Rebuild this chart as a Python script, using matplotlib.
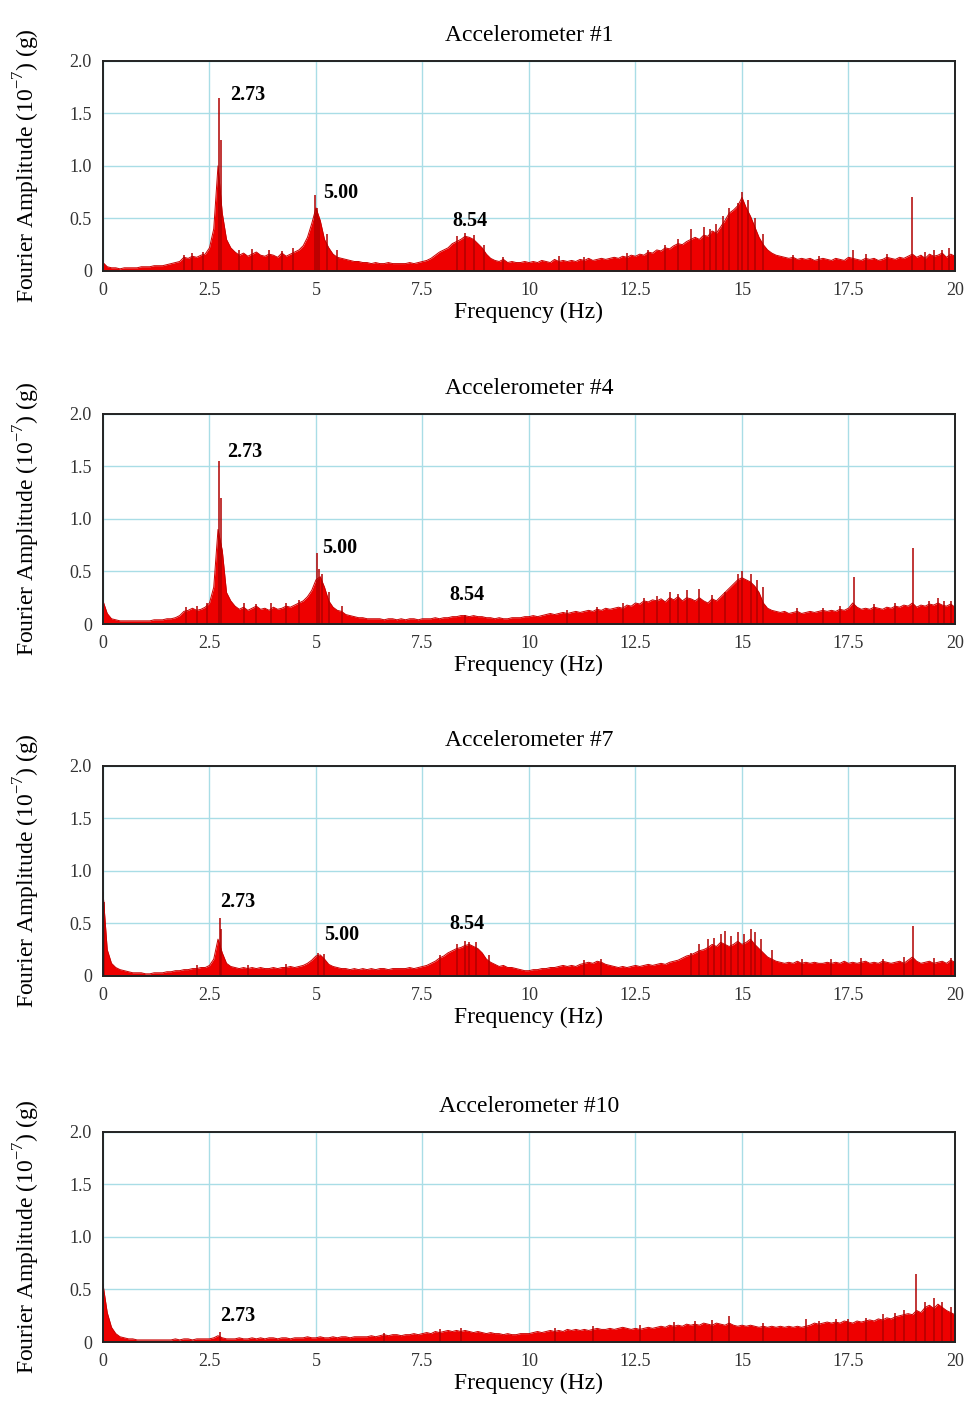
import matplotlib
matplotlib.use("Agg")
import matplotlib.pyplot as plt
import numpy as np

plt.rcParams['font.family'] = ['Liberation Serif', 'DejaVu Serif']
plt.rcParams['mathtext.fontset'] = 'custom'
plt.rcParams['mathtext.rm'] = 'Liberation Serif'

# frequency sampling of the digitised envelopes (Hz)
freq = np.round(np.arange(201) * 0.1, 1)

titles = ['Accelerometer #1', 'Accelerometer #4', 'Accelerometer #7', 'Accelerometer #10']

# Accelerometer #1 - spectrum envelope (10^-7 g)
amp1 = [0.08, 0.04, 0.03, 0.03, 0.02, 0.03, 0.03, 0.03, 0.03, 0.04,
        0.04, 0.04, 0.05, 0.05, 0.05, 0.06, 0.07, 0.08, 0.09, 0.13,
        0.12, 0.14, 0.13, 0.15, 0.16, 0.22, 0.40, 1.00, 0.55, 0.30,
        0.22, 0.18, 0.15, 0.17, 0.14, 0.16, 0.18, 0.15, 0.14, 0.16,
        0.15, 0.13, 0.17, 0.14, 0.16, 0.18, 0.20, 0.24, 0.32, 0.45,
        0.60, 0.48, 0.30, 0.22, 0.16, 0.13, 0.12, 0.11, 0.10, 0.09,
        0.09, 0.08, 0.08, 0.07, 0.08, 0.07, 0.07, 0.08, 0.07, 0.07,
        0.07, 0.07, 0.08, 0.07, 0.08, 0.09, 0.10, 0.12, 0.15, 0.18,
        0.20, 0.22, 0.26, 0.28, 0.30, 0.33, 0.32, 0.30, 0.26, 0.22,
        0.16, 0.12, 0.10, 0.09, 0.11, 0.08, 0.09, 0.08, 0.08, 0.09,
        0.08, 0.09, 0.08, 0.10, 0.09, 0.08, 0.11, 0.09, 0.10, 0.09,
        0.10, 0.09, 0.11, 0.10, 0.12, 0.10, 0.11, 0.12, 0.11, 0.12,
        0.13, 0.12, 0.14, 0.13, 0.15, 0.14, 0.16, 0.15, 0.18, 0.17,
        0.20, 0.19, 0.22, 0.21, 0.24, 0.26, 0.25, 0.28, 0.30, 0.32,
        0.30, 0.34, 0.33, 0.38, 0.36, 0.42, 0.48, 0.55, 0.58, 0.62,
        0.70, 0.60, 0.52, 0.42, 0.32, 0.25, 0.20, 0.17, 0.15, 0.14,
        0.13, 0.12, 0.13, 0.11, 0.12, 0.11, 0.12, 0.10, 0.11, 0.12,
        0.11, 0.10, 0.12, 0.11, 0.10, 0.13, 0.12, 0.11, 0.10, 0.12,
        0.11, 0.12, 0.10, 0.11, 0.13, 0.12, 0.11, 0.13, 0.12, 0.14,
        0.16, 0.13, 0.15, 0.12, 0.16, 0.14, 0.15, 0.17, 0.13, 0.16, 0.14]
spike_f1 = [2.73, 2.76, 4.98, 5.03, 5.08, 8.5, 13.8, 14.1, 14.4, 14.7, 14.9, 15.0, 17.6, 19.0, 19.5, 19.85,
            1.9, 2.1, 2.35, 3.2, 3.5, 3.9, 4.2, 4.45, 5.25, 5.5, 8.3, 8.7, 8.95, 9.4, 10.7, 11.3,
            12.3, 12.8, 13.2, 13.5, 14.25, 14.55, 15.15, 15.3, 15.5, 16.2, 16.8, 17.9, 18.4, 19.3, 19.7]
spike_a1 = [1.65, 1.25, 0.72, 0.60, 0.50, 0.36, 0.40, 0.42, 0.45, 0.60, 0.65, 0.75, 0.20, 0.70, 0.20, 0.22,
            0.15, 0.17, 0.18, 0.20, 0.21, 0.20, 0.19, 0.22, 0.35, 0.20, 0.33, 0.34, 0.25, 0.13, 0.14, 0.13,
            0.17, 0.20, 0.25, 0.30, 0.40, 0.52, 0.68, 0.50, 0.35, 0.15, 0.14, 0.16, 0.16, 0.18, 0.20]

# Accelerometer #4
amp2 = [0.22, 0.10, 0.05, 0.04, 0.03, 0.03, 0.03, 0.03, 0.03, 0.03,
        0.03, 0.03, 0.04, 0.04, 0.04, 0.05, 0.05, 0.06, 0.08, 0.12,
        0.13, 0.15, 0.13, 0.14, 0.16, 0.20, 0.35, 0.90, 0.70, 0.30,
        0.22, 0.17, 0.14, 0.16, 0.13, 0.15, 0.17, 0.14, 0.15, 0.13,
        0.16, 0.14, 0.15, 0.17, 0.16, 0.18, 0.20, 0.22, 0.26, 0.32,
        0.42, 0.45, 0.35, 0.22, 0.16, 0.13, 0.12, 0.09, 0.08, 0.07,
        0.06, 0.06, 0.05, 0.05, 0.05, 0.05, 0.04, 0.05, 0.05, 0.04,
        0.05, 0.04, 0.05, 0.05, 0.04, 0.05, 0.05, 0.05, 0.06, 0.05,
        0.06, 0.06, 0.07, 0.07, 0.08, 0.08, 0.07, 0.08, 0.07, 0.07,
        0.06, 0.06, 0.05, 0.06, 0.05, 0.05, 0.06, 0.06, 0.06, 0.07,
        0.07, 0.08, 0.07, 0.08, 0.09, 0.10, 0.09, 0.10, 0.11, 0.10,
        0.11, 0.12, 0.11, 0.12, 0.13, 0.12, 0.14, 0.13, 0.15, 0.14,
        0.15, 0.16, 0.15, 0.18, 0.17, 0.20, 0.19, 0.22, 0.21, 0.23,
        0.22, 0.24, 0.21, 0.25, 0.23, 0.26, 0.22, 0.25, 0.24, 0.22,
        0.25, 0.22, 0.20, 0.24, 0.22, 0.26, 0.30, 0.34, 0.38, 0.42,
        0.44, 0.42, 0.40, 0.36, 0.30, 0.20, 0.15, 0.13, 0.12, 0.11,
        0.12, 0.10, 0.11, 0.12, 0.10, 0.11, 0.12, 0.11, 0.12, 0.13,
        0.12, 0.13, 0.12, 0.14, 0.13, 0.15, 0.20, 0.16, 0.14, 0.15,
        0.14, 0.16, 0.15, 0.14, 0.16, 0.15, 0.17, 0.16, 0.18, 0.17,
        0.20, 0.16, 0.18, 0.17, 0.19, 0.18, 0.20, 0.18, 0.17, 0.19, 0.16]
spike_f2 = [2.73, 2.77, 5.03, 5.08, 5.15, 13.3, 13.7, 14.0, 14.9, 15.0, 15.2, 17.62, 19.02, 19.6, 19.9,
            1.95, 2.2, 2.45, 3.3, 3.6, 3.95, 4.3, 4.6, 5.3, 5.6, 8.5, 10.9, 11.6, 12.2, 12.7, 13.0,
            13.5, 14.3, 14.6, 15.35, 15.5, 16.3, 16.9, 17.3, 18.1, 18.6, 19.4, 19.75]
spike_a2 = [1.55, 1.20, 0.68, 0.52, 0.48, 0.30, 0.32, 0.33, 0.48, 0.50, 0.48, 0.45, 0.72, 0.25, 0.22,
            0.16, 0.17, 0.20, 0.20, 0.19, 0.20, 0.20, 0.23, 0.30, 0.17, 0.09, 0.13, 0.16, 0.20, 0.25, 0.27,
            0.29, 0.28, 0.30, 0.42, 0.35, 0.15, 0.15, 0.17, 0.19, 0.20, 0.22, 0.22]

# Accelerometer #7
amp3 = [0.80, 0.25, 0.12, 0.08, 0.06, 0.05, 0.04, 0.03, 0.03, 0.03,
        0.02, 0.02, 0.03, 0.03, 0.03, 0.04, 0.04, 0.05, 0.05, 0.06,
        0.06, 0.07, 0.07, 0.08, 0.08, 0.10, 0.16, 0.35, 0.22, 0.12,
        0.09, 0.08, 0.07, 0.08, 0.07, 0.08, 0.07, 0.08, 0.07, 0.07,
        0.08, 0.07, 0.08, 0.08, 0.09, 0.08, 0.09, 0.10, 0.12, 0.15,
        0.19, 0.20, 0.16, 0.11, 0.09, 0.08, 0.07, 0.07, 0.06, 0.07,
        0.06, 0.07, 0.06, 0.07, 0.06, 0.07, 0.07, 0.06, 0.07, 0.07,
        0.07, 0.07, 0.08, 0.07, 0.08, 0.09, 0.10, 0.12, 0.14, 0.17,
        0.19, 0.22, 0.24, 0.26, 0.27, 0.29, 0.30, 0.28, 0.26, 0.22,
        0.16, 0.13, 0.11, 0.09, 0.10, 0.08, 0.08, 0.07, 0.06, 0.05,
        0.05, 0.06, 0.06, 0.07, 0.07, 0.08, 0.08, 0.09, 0.10, 0.09,
        0.10, 0.09, 0.11, 0.12, 0.13, 0.12, 0.14, 0.13, 0.11, 0.10,
        0.09, 0.08, 0.09, 0.08, 0.09, 0.10, 0.09, 0.10, 0.11, 0.10,
        0.11, 0.12, 0.11, 0.13, 0.14, 0.15, 0.17, 0.19, 0.20, 0.22,
        0.24, 0.25, 0.27, 0.30, 0.28, 0.32, 0.30, 0.28, 0.30, 0.33,
        0.30, 0.32, 0.35, 0.30, 0.26, 0.22, 0.18, 0.16, 0.14, 0.13,
        0.12, 0.13, 0.12, 0.14, 0.12, 0.13, 0.12, 0.13, 0.12, 0.12,
        0.13, 0.12, 0.13, 0.12, 0.14, 0.12, 0.13, 0.12, 0.13, 0.14,
        0.12, 0.13, 0.12, 0.14, 0.13, 0.12, 0.13, 0.14, 0.12, 0.15,
        0.18, 0.14, 0.12, 0.13, 0.14, 0.12, 0.13, 0.14, 0.12, 0.15, 0.13]
spike_f3 = [0.0, 0.02, 2.75, 2.78, 5.05, 8.5, 8.6, 14.2, 14.5, 14.6, 14.9, 15.2, 15.3, 19.02,
            2.2, 3.4, 4.3, 5.2, 7.9, 8.3, 8.75, 9.05, 11.3, 11.7, 13.8, 14.0, 14.35, 14.75,
            15.05, 15.45, 15.7, 16.4, 17.1, 17.8, 18.3, 18.8, 19.5, 19.9]
spike_a3 = [0.80, 0.70, 0.55, 0.45, 0.22, 0.33, 0.32, 0.35, 0.40, 0.43, 0.42, 0.45, 0.42, 0.48,
            0.10, 0.10, 0.11, 0.21, 0.20, 0.30, 0.32, 0.20, 0.15, 0.16, 0.22, 0.30, 0.36, 0.38,
            0.40, 0.35, 0.25, 0.16, 0.16, 0.17, 0.16, 0.18, 0.17, 0.17]

# Accelerometer #10
amp4 = [0.55, 0.28, 0.14, 0.08, 0.05, 0.04, 0.03, 0.03, 0.02, 0.02,
        0.02, 0.02, 0.02, 0.02, 0.02, 0.02, 0.02, 0.03, 0.02, 0.03,
        0.03, 0.02, 0.03, 0.03, 0.03, 0.03, 0.04, 0.06, 0.04, 0.03,
        0.03, 0.03, 0.04, 0.03, 0.03, 0.04, 0.03, 0.04, 0.03, 0.04,
        0.04, 0.03, 0.04, 0.04, 0.03, 0.04, 0.04, 0.04, 0.05, 0.04,
        0.04, 0.05, 0.04, 0.04, 0.05, 0.04, 0.05, 0.05, 0.04, 0.05,
        0.05, 0.05, 0.05, 0.06, 0.05, 0.06, 0.07, 0.06, 0.07, 0.07,
        0.06, 0.07, 0.07, 0.08, 0.07, 0.08, 0.09, 0.08, 0.10, 0.09,
        0.10, 0.11, 0.10, 0.11, 0.10, 0.11, 0.10, 0.09, 0.10, 0.09,
        0.08, 0.09, 0.08, 0.08, 0.07, 0.08, 0.07, 0.07, 0.08, 0.08,
        0.08, 0.09, 0.10, 0.09, 0.10, 0.11, 0.10, 0.11, 0.10, 0.12,
        0.11, 0.12, 0.11, 0.12, 0.11, 0.12, 0.13, 0.12, 0.12, 0.13,
        0.12, 0.13, 0.14, 0.13, 0.12, 0.13, 0.12, 0.13, 0.14, 0.13,
        0.14, 0.15, 0.14, 0.16, 0.15, 0.16, 0.15, 0.17, 0.16, 0.17,
        0.16, 0.18, 0.17, 0.16, 0.18, 0.17, 0.16, 0.18, 0.16, 0.15,
        0.16, 0.15, 0.16, 0.15, 0.14, 0.15, 0.14, 0.15, 0.14, 0.15,
        0.14, 0.15, 0.14, 0.15, 0.14, 0.15, 0.16, 0.18, 0.17, 0.18,
        0.19, 0.18, 0.19, 0.18, 0.20, 0.19, 0.18, 0.20, 0.19, 0.20,
        0.21, 0.20, 0.22, 0.21, 0.23, 0.22, 0.24, 0.25, 0.26, 0.27,
        0.26, 0.30, 0.28, 0.33, 0.35, 0.32, 0.36, 0.33, 0.30, 0.28, 0.26]
spike_f4 = [0.0, 2.75, 14.7, 16.5, 17.2, 18.8, 19.08, 19.5, 19.7,
            6.6, 7.9, 8.4, 10.6, 11.5, 12.6, 13.4, 13.9, 14.3, 15.5, 16.8, 17.5, 17.9, 18.3, 18.6, 19.3, 19.9]
spike_a4 = [0.55, 0.10, 0.25, 0.22, 0.22, 0.30, 0.65, 0.42, 0.38,
            0.09, 0.12, 0.13, 0.13, 0.15, 0.16, 0.19, 0.20, 0.21, 0.18, 0.20, 0.22, 0.23, 0.27, 0.28, 0.38, 0.33]

amps = [amp1, amp2, amp3, amp4]
spike_fs = [spike_f1, spike_f2, spike_f3, spike_f4]
spike_as = [spike_a1, spike_a2, spike_a3, spike_a4]

# peak labels: text, x, y
labels = [
    [('2.73', 2.98, 1.67), ('5.00', 5.16, 0.74), ('8.54', 8.2, 0.48)],
    [('2.73', 2.91, 1.64), ('5.00', 5.14, 0.72), ('8.54', 8.12, 0.28)],
    [('2.73', 2.75, 0.70), ('5.00', 5.19, 0.39), ('8.54', 8.12, 0.49)],
    [('2.73', 2.75, 0.25)],
]

xticks = [0, 2.5, 5, 7.5, 10, 12.5, 15, 17.5, 20]
xtick_labels = ['0', '2.5', '5', '7.5', '10', '12.5', '15', '17.5', '20']
yticks = [0, 0.5, 1.0, 1.5, 2.0]
ytick_labels = ['0', '0.5', '1.0', '1.5', '2.0']

fig = plt.figure(figsize=(9.66, 14.01), dpi=100)
bottoms = [0.8066, 0.5546, 0.3034, 0.0421]

for i in range(4):
    ax = fig.add_axes([0.1066, bottoms[i], 0.882, 0.150])
    ax.fill_between(freq, 0, amps[i], color='#ee0000', linewidth=0)
    ax.plot(freq, amps[i], color='#c80000', linewidth=0.7)
    ax.vlines(spike_fs[i], 0, spike_as[i], color='#b00000', linewidth=1.1)

    ax.set_xlim(0, 20)
    ax.set_ylim(0, 2.0)
    ax.set_xticks(xticks)
    ax.set_xticklabels(xtick_labels)
    ax.set_yticks(yticks)
    ax.set_yticklabels(ytick_labels)
    ax.tick_params(length=0, labelsize=13, labelcolor='#333333', pad=8)
    ax.grid(True, color='#a9dde6', linewidth=1.0)
    ax.set_axisbelow(True)
    for s in ax.spines.values():
        s.set_linewidth(1.4)
        s.set_color('#222222')

    ax.set_title(titles[i], fontsize=17, pad=14)
    ax.set_xlabel('Frequency (Hz)', fontsize=17, labelpad=2)
    ax.set_ylabel(r'Fourier Amplitude (10$^{\mathregular{-7}}$) (g)', fontsize=17, labelpad=20)

    for txt, x, y in labels[i]:
        ax.text(x, y, txt, fontsize=14.5, fontweight='bold', ha='left', va='center')

fig.savefig('out.png', dpi=100, facecolor='white')
